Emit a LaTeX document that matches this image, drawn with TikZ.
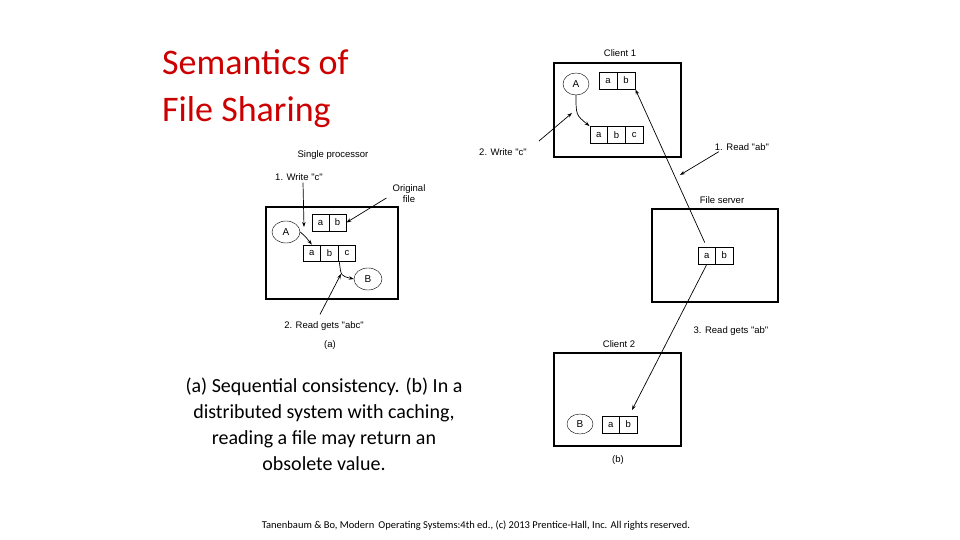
\documentclass[tikz,border=0pt]{standalone}
\usepackage{fontspec}
\setmainfont{Carlito}
\newfontfamily\lab{Liberation Sans}
\newcommand{\qq}{{\lab\char34}}
\usetikzlibrary{arrows.meta,shapes.geometric}
\begin{document}
\begin{tikzpicture}[x=1pt,y=-1pt,
  lbl/.style={font=\lab\fontsize{9.5}{11}\selectfont,inner sep=0pt},
  frame/.style={draw,line width=1.1pt},
  cell/.style={draw,line width=0.9pt,minimum width=12.8pt,minimum height=12.8pt,inner sep=0pt,font=\lab\fontsize{9.5}{11}\selectfont},
  proc/.style={draw,ellipse,minimum width=20pt,minimum height=16pt,inner sep=0pt,font=\lab\fontsize{10}{11}\selectfont},
  arr/.style={-{Stealth[length=5pt,width=3.5pt]},line width=0.7pt}]
\useasboundingbox (0,0) rectangle (960,540);
\node[anchor=base west,text=red!80!black,font=\fontsize{36}{40}\selectfont,inner sep=0pt] (title) at (162,75) {Semantics of};
\node[anchor=base west,text=red!80!black,font=\fontsize{36}{40}\selectfont,inner sep=0pt] (title2) at (162,122) {File Sharing};
\node[align=center,font=\fontsize{20}{26}\selectfont] (cap) at (324,424) {(a) Sequential consistency. (b) In a\\distributed system with caching,\\reading a file may return an\\obsolete value.};
\node[font=\fontsize{10.5}{12}\selectfont] (foot) at (476,526) {Tanenbaum \& Bo, Modern\, Operating Systems:4th ed., (c) 2013 Prentice-Hall, Inc. All rights reserved.};
% (a)
\draw[frame] (266,207) rectangle (398,299);
\node[lbl] (sp) at (333,155) {Single processor};
\node[lbl] (w1) at (299,177) {1. Write \qq c\qq};
\node[lbl,align=center] (of) at (409,194) {Original\\file};
\node[lbl] (rg) at (324,326) {2. Read gets \qq abc\qq};
\node[lbl] (la) at (330,345) {(a)};
\node[cell,minimum width=17pt,minimum height=17pt] (a1) at (320.5,222.5) {a};
\node[cell,minimum width=17pt,minimum height=17pt] (a2) at (337.5,222.5) {b};
\node[cell,minimum width=17.6pt,minimum height=16pt] (b1) at (311.8,253) {a};
\node[cell,minimum width=17.6pt,minimum height=16pt] (b2) at (329.4,253) {b};
\node[cell,minimum width=17.6pt,minimum height=16pt] (b3) at (347,253) {c};
\node[proc,minimum width=28pt,minimum height=22pt] (A) at (286,232) {A};
\node[proc,minimum width=28pt,minimum height=22pt] (B) at (368,279) {B};
\coordinate (wend) at (304,227);
\draw[arr] (w1.south) ++(4,2) -- (wend);
\draw[arr] (of.west) ++(-6,4) -- (a2.east);
\draw[arr] (A.east) .. controls (305,236) .. (b1.north);
\draw[arr] (b2.south) ++(10,1) .. controls (341,276) .. (B.west);
\coordinate (rend) at (341,274);
\draw[arr] (rg.north) ++(-4,-7) -- (rend);
% (b)
\draw[frame] (554,63) rectangle (681,157);
\node[lbl] (c1) at (620,53) {Client 1};
\node[cell,minimum width=18pt,minimum height=17pt] (c1a) at (608,80.5) {a};
\node[cell,minimum width=18pt,minimum height=17pt] (c1b) at (626,80.5) {b};
\node[proc,minimum width=26pt,minimum height=22pt] (A2) at (576,84) {A};
\node[cell,minimum width=17.7pt,minimum height=17pt] (d1) at (598.8,135) {a};
\node[cell,minimum width=17.7pt,minimum height=17pt] (d2) at (616.5,135) {b};
\node[cell,minimum width=17.7pt,minimum height=17pt] (d3) at (634.2,135) {c};
\draw[arr] (A2.south) .. controls (576,115) .. (d1.north west);
\node[lbl] (w2) at (503,152) {2. Write \qq c\qq};
\coordinate (w2e) at (572,113);
\draw[arr] (539,141) -- (w2e);
\draw[frame] (652,209) rectangle (778,302);
\node[lbl] (fs) at (722,200) {File server};
\node[cell,minimum width=17.5pt,minimum height=17pt] (s1) at (706.75,255.5) {a};
\node[cell,minimum width=17.5pt,minimum height=17pt] (s2) at (724.25,255.5) {b};
\draw[arr] (s1.north) ++(-2,-4) -- (c1b.south east);
\node[lbl] (r1) at (742,147) {1. Read \qq ab\qq};
\coordinate (r1e) at (680,175);
\draw[arr] (r1.south west) ++(4,1) -- (r1e);
\draw[frame] (554,353) rectangle (681,446);
\node[lbl] (c2) at (619,344) {Client 2};
\node[proc,minimum width=26pt,minimum height=20pt] (B2) at (580,424) {B};
\node[cell,minimum width=17.5pt,minimum height=17pt] (e1) at (610.75,424.5) {a};
\node[cell,minimum width=17.5pt,minimum height=17pt] (e2) at (628.25,424.5) {b};
\coordinate (e2t) at (632,410);
\draw[arr] (s1.south) -- (e2t);
\node[lbl] (r3) at (731,331) {3. Read gets \qq ab\qq};
\node[lbl] (lb) at (618,460) {(b)};
\end{tikzpicture}
\end{document}
